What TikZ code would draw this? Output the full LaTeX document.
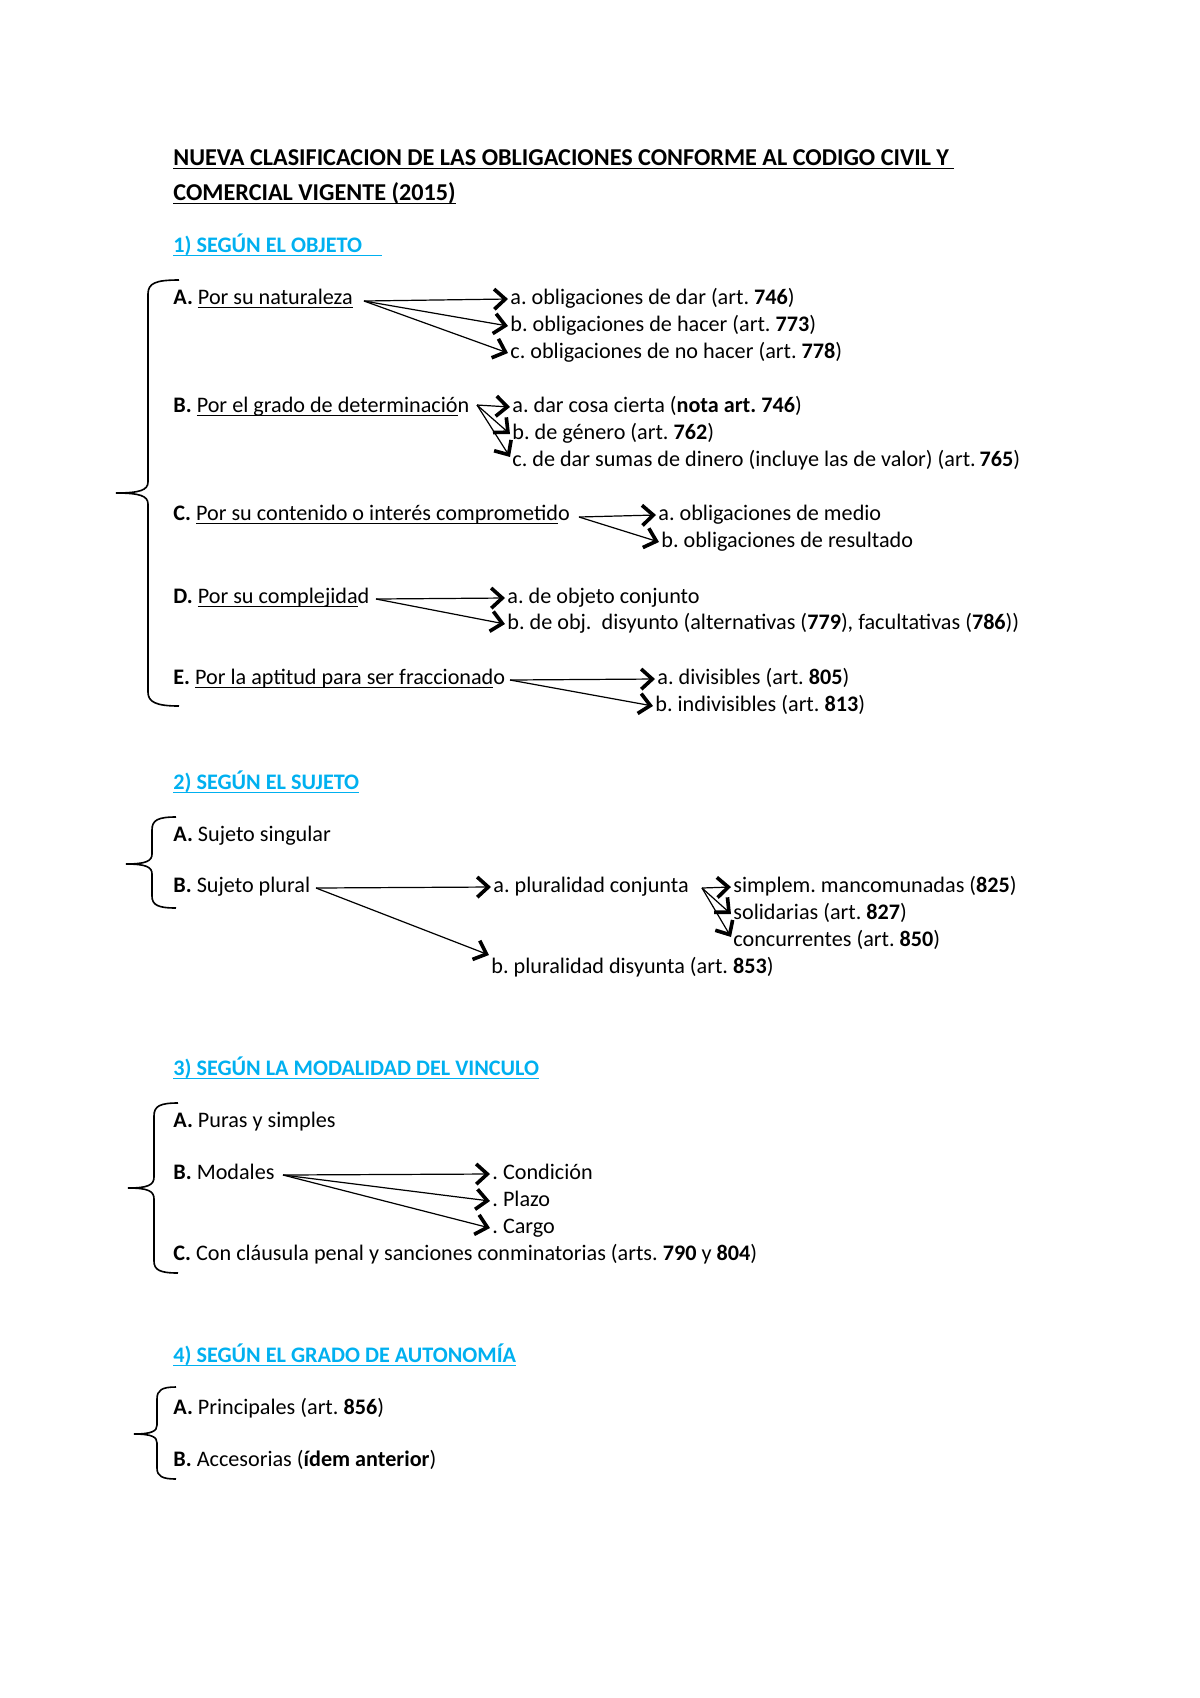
\documentclass[tikz,border=0pt]{standalone}
\usepackage{fontspec}
\setmainfont{Carlito}
\usepackage{xcolor}
\usepackage{tikz}
\usetikzlibrary{arrows.meta}
\definecolor{celeste}{HTML}{00B0F0}
\newcommand\subr[1]{\setbox0\hbox{#1}\rlap{\rule[-1.7pt]{\wd0}{0.6pt}}\box0}

\begin{document}
\fontsize{11}{13.4}\selectfont\frenchspacing
\begin{tikzpicture}[x=0.496pt,y=-0.496pt]
    \tikzstyle{txt} = [anchor=west,inner sep=1pt,text height=8pt,text depth=2.5pt]
    \tikzstyle{titulo} = [txt,font=\bfseries,text=celeste]
    \tikzstyle{flecha} = [line width=0.6pt,-{Straight Barb[length=5.5pt,width=10pt,line width=1.8pt]}]
    \tikzstyle{llave} = [line width=0.8pt]
        \useasboundingbox (0,0) rectangle (1200,1698);
    \begin{scope}[shift={(0,2)}]
        % titulo
        \node[txt,font=\fontsize{12}{14}\selectfont\bfseries] (tit1) at (171,158) {\subr{NUEVA CLASIFICACION DE LAS OBLIGACIONES CONFORME AL CODIGO CIVIL Y }};
        \node[txt,font=\fontsize{12}{14}\selectfont\bfseries] (tit2) at (171,193) {\subr{COMERCIAL VIGENTE (2015)}};
        % 1) objeto
        \node[titulo] (s1) at (171,245) {\subr{1) SEGÚN EL OBJETO\hspace{0.9em}}};
        \node[txt] (s1A) at (171,297) {\textbf{A.} \subr{Por su naturaleza}};
        \coordinate (s1Ao) at (364,299);
        \node[txt] (s1Aa) at (508,297) {a. obligaciones de dar (art. \textbf{746})};
        \node[txt] (s1Ab) at (508,324) {b. obligaciones de hacer (art. \textbf{773})};
        \node[txt] (s1Ac) at (508,351) {c. obligaciones de no hacer (art. \textbf{778})};
        \draw[flecha] (s1Ao) -- (s1Aa.west);
        \draw[flecha] (s1Ao) -- (s1Ab.west);
        \draw[flecha] (s1Ao) -- (s1Ac.west);
        \node[txt] (s1B) at (171,405) {\textbf{B.} \subr{Por el grado de determinació}n};
        \coordinate (s1Bo) at (477,403);
        \node[txt] (s1Ba) at (510,405) {a. dar cosa cierta (\textbf{nota art. 746})};
        \node[txt] (s1Bb) at (510,432) {b. de género (art. \textbf{762})};
        \node[txt] (s1Bc) at (510,459) {c. de dar sumas de dinero (incluye las de valor) (art.\,\textbf{765})};
        \draw[flecha] (s1Bo) -- (s1Ba.west);
        \draw[flecha] (s1Bo) -- (s1Bb.west);
        \draw[flecha] (s1Bo) -- ([yshift=2pt]s1Bc.west);
        \node[txt] (s1C) at (171,513) {\textbf{C.} \subr{Por su contenido o interés comprometid}o};
        \coordinate (s1Co) at (579,515);
        \node[txt] (s1Ca) at (656,513) {a. obligaciones de medio};
        \node[txt] (s1Cb) at (659,540) {b. obligaciones de resultado};
        \draw[flecha] (s1Co) -- (s1Ca.west);
        \draw[flecha] (s1Co) -- (s1Cb.west);
        \node[txt] (s1D) at (171,596) {\textbf{D.} \subr{Por su complejida}d};
        \coordinate (s1Do) at (376,597);
        \node[txt] (s1Da) at (505,596) {a. de objeto conjunto};
        \node[txt] (s1Db) at (505,622) {b. de obj.\ \ disyunto (alternativas (\textbf{779}), facultativas (\textbf{786}))};
        \draw[flecha] (s1Do) -- (s1Da.west);
        \draw[flecha] (s1Do) -- (s1Db.west);
        \node[txt] (s1E) at (171,677) {\textbf{E.} \subr{Por la aptitud para ser fraccionad}o};
        \coordinate (s1Eo) at (510,678);
        \node[txt] (s1Ea) at (655,677) {a. divisibles (art. \textbf{805})};
        \node[txt] (s1Eb) at (653,704) {b. indivisibles (art. \textbf{813})};
        \draw[flecha] (s1Eo) -- (s1Ea.west);
        \draw[flecha] (s1Eo) -- (s1Eb.west);
        \draw[llave] (179,278) .. controls (156,278) and (148,281) .. (148,292) -- (148,480)
            .. controls (148,488) and (140,491) .. (116,491)
            .. controls (140,491) and (148,494) .. (148,502) -- (148,690)
            .. controls (148,700) and (156,704) .. (179,704);
        % 2) sujeto
        \node[titulo] (s2) at (171,782) {\subr{2) SEGÚN EL SUJETO}};
        \node[txt] (s2A) at (171,834) {\textbf{A.} Sujeto singular};
        \node[txt] (s2B) at (171,885) {\textbf{B.} Sujeto plural};
        \coordinate (s2Bo) at (316,886);
        \node[txt] (s2Ba) at (491,885) {a. pluralidad conjunta};
        \node[txt] (s2Bb) at (489,966) {b. pluralidad disyunta (art. \textbf{853})};
        \draw[flecha] (s2Bo) -- (s2Ba.west);
        \draw[flecha] (s2Bo) -- (s2Bb.north west);
        \coordinate (s2Bao) at (702,886);
        \node[txt] (s2Ba1) at (731,885) {simplem. mancomunadas (\textbf{825})};
        \node[txt] (s2Ba2) at (731,912) {solidarias (art. \textbf{827})};
        \node[txt] (s2Ba3) at (731,939) {concurrentes (art. \textbf{850})};
        \draw[flecha] (s2Bao) -- (s2Ba1.west);
        \draw[flecha] (s2Bao) -- (s2Ba2.west);
        \draw[flecha] (s2Bao) -- ([yshift=2pt]s2Ba3.west);
        \draw[llave] (176,815) .. controls (158,815) and (152,818) .. (152,828) -- (152,852)
            .. controls (152,859) and (146,862) .. (126,862)
            .. controls (146,862) and (152,865) .. (152,872) -- (152,894)
            .. controls (152,903) and (158,906) .. (176,906);
        % 3) modalidad
        \node[titulo] (s3) at (171,1068) {\subr{3) SEGÚN LA MODALIDAD DEL VINCULO}};
        \node[txt] (s3A) at (171,1120) {\textbf{A.} Puras y simples};
        \node[txt] (s3B) at (171,1172) {\textbf{B.} Modales};
        \coordinate (s3Bo) at (283,1173);
        \node[txt] (s3Ba) at (490,1172) {. Condición};
        \node[txt] (s3Bb) at (490,1199) {. Plazo};
        \node[txt] (s3Bc) at (490,1226) {. Cargo};
        \draw[flecha] (s3Bo) -- (s3Ba.west);
        \draw[flecha] (s3Bo) -- (s3Bb.west);
        \draw[flecha] (s3Bo) -- (s3Bc.west);
        \node[txt] (s3C) at (171,1253) {\textbf{C.} Con cláusula penal y sanciones conminatorias (arts. \textbf{790} y \textbf{804})};
        \draw[llave] (178,1101) .. controls (160,1101) and (154,1104) .. (154,1114) -- (154,1175)
            .. controls (154,1183) and (148,1186) .. (128,1186)
            .. controls (148,1186) and (154,1189) .. (154,1197) -- (154,1259)
            .. controls (154,1268) and (160,1271) .. (178,1271);
        % 4) autonomia
        \node[titulo] (s4) at (171,1355) {\subr{4) SEGÚN EL GRADO DE AUTONOMÍA}};
        \node[txt] (s4A) at (171,1407) {\textbf{A.} Principales (art. \textbf{856})};
        \node[txt] (s4B) at (171,1459) {\textbf{B.} Accesorias (\textbf{ídem anterior})};
        \draw[llave] (176,1385) .. controls (162,1385) and (157,1388) .. (157,1397) -- (157,1423)
            .. controls (157,1429) and (152,1432) .. (134,1432)
            .. controls (152,1432) and (157,1435) .. (157,1441) -- (157,1466)
            .. controls (157,1474) and (162,1477) .. (176,1477);
    \end{scope}
    \end{tikzpicture}
\end{document}
